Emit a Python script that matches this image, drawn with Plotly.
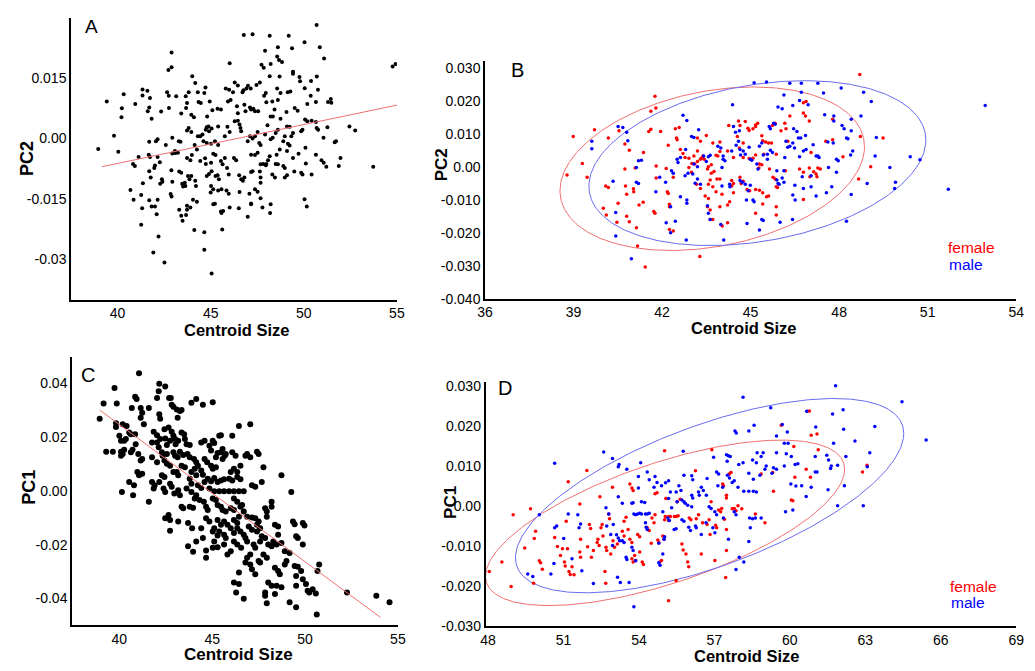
import numpy as np
import plotly.graph_objects as go

# ---------------- DATA ----------------
A_points = [
(50.69,0.0282),(46.78,0.0257),(47.25,0.0259),(48.17,0.0255),(49.19,0.0255),(50.04,0.0239),(42.9,0.0214),(50.86,0.0227),(49.37,0.0224),(48.61,0.0227),(47.92,0.0218),(48.57,0.0204),(48.67,0.0195),(48.83,0.0190),(51.09,0.0199),(46.02,0.0187),(48.22,0.0185),(47.73,0.0183),(47.85,0.0176),(42.9,0.0177),(42.73,0.0170),(54.77,0.0179),(54.93,0.0185),(49.42,0.0166),(49.42,0.0161),(48.17,0.0155),(48.7,0.0154),(49.77,0.0153),(49.8,0.0142),(50.7,0.0154),(50.39,0.0143),(44.01,0.0155),(44.17,0.0138),(46.29,0.0139),(46.46,0.0132),(47.64,0.0139),(47.46,0.0133),(47.0,0.0131),(47.15,0.0124),(45.81,0.0124),(44.72,0.0127),(44.66,0.0113),(41.34,0.0122),(41.6,0.0119),(41.34,0.0107),(40.33,0.0110),(39.42,0.0092),(42.66,0.0115),(42.75,0.0106),(43.15,0.0105),(43.66,0.0105),(43.82,0.0115),(44.31,0.0115),(45.99,0.0121),(46.2,0.0115),(46.76,0.0120),(46.92,0.0124),(46.71,0.0115),(47.96,0.0113),(47.87,0.0106),(48.57,0.0124),(48.75,0.0113),(49.14,0.0115),(49.28,0.0117),(50.05,0.0125),(50.76,0.0121),(50.37,0.0106),(51.45,0.0098),(51.48,0.0089),(51.3,0.0091),(50.65,0.0091),(50.19,0.0086),(41.74,0.0101),(40.23,0.0075),(40.21,0.0053),(40.95,0.0086),(41.7,0.0077),(41.62,0.0068),(41.83,0.0049),(42.34,0.0067),(42.76,0.0076),(43.73,0.0088),(43.68,0.0076),(44.35,0.0091),(44.47,0.0088),(44.95,0.0092),(45.09,0.0070),(45.37,0.0074),(45.55,0.0072),(44.81,0.0055),(43.96,0.0059),(44.1,0.0053),(43.42,0.0062),(45.93,0.0092),(46.07,0.0096),(46.41,0.0080),(46.46,0.0063),(46.81,0.0084),(46.87,0.0068),(47.11,0.0077),(47.17,0.0072),(47.29,0.0074),(47.38,0.0068),(47.55,0.0068),(47.99,0.0090),(48.31,0.0092),(48.43,0.0072),(48.61,0.0096),(48.22,0.0055),(48.34,0.0055),(48.75,0.0049),(49.07,0.0066),(49.51,0.0076),(49.67,0.0069),(50.07,0.0047),(50.19,0.0043),(50.42,0.0044),(50.65,0.0041),(50.69,0.0026),(50.77,0.0022),(51.27,0.0028),(52.45,0.0030),(52.76,0.0020),(51.06,0.0002),(51.73,-0.0007),(51.66,-0.0009),(53.73,-0.0070),(51.97,-0.0048),(51.88,-0.0068),(51.21,-0.0070),(51.07,-0.0060),(50.95,-0.0054),(50.65,-0.0040),(50.09,-0.0023),(50.11,-0.0062),(49.86,-0.0085),(49.93,-0.0089),(50.42,-0.0089),(49.49,-0.0082),(49.72,-0.0038),(50.04,-0.0151),(50.16,-0.0169),(49.86,0.0018),(49.93,0.0022),(49.1,0.0030),(49.24,0.0029),(48.98,0.0006),(48.49,0.0014),(48.61,0.0022),(48.05,0.0033),(48.9,-0.0007),(49.15,-0.0013),(49.24,-0.0017),(49.1,-0.0031),(48.71,-0.0027),(48.33,0.0002),(48.22,-0.0002),(47.92,0.0010),(47.52,0.0016),(47.38,0.0006),(47.11,0.0006),(47.25,0.0),(46.99,-0.0007),(47.61,-0.0011),(47.68,-0.0016),(46.6,0.0026),(46.64,0.0018),(46.29,0.0043),(46.46,0.0044),(46.55,0.0035),(45.9,0.0029),(46.02,0.0016),(45.4,0.0030),(45.76,0.0006),(45.05,0.0025),(44.88,0.0030),(44.74,0.0022),(44.79,0.0028),(44.91,0.0018),(44.44,0.0006),(44.31,0.0006),(44.56,0.0010),(43.82,0.0026),(43.73,0.0020),(43.96,0.0016),(44.61,-0.0007),(44.79,-0.0011),(45.02,-0.0013),(45.23,-0.0007),(45.4,-0.0016),(44.14,-0.0016),(44.26,-0.0027),(43.29,-0.0007),(43.38,-0.0008),(42.94,0.0002),(42.59,-0.0016),(42.94,-0.0037),(43.08,-0.0031),(42.15,-0.0002),(42.06,-0.0007),(41.7,-0.0008),(41.67,-0.0040),(41.74,-0.0046),(41.13,-0.0046),(40.83,-0.0063),(40.93,-0.0068),(40.04,-0.0033),(39.81,0.0007),(38.96,-0.0026),(42.15,-0.0046),(42.27,-0.0059),(42.01,-0.0067),(41.97,-0.0073),(41.7,-0.0081),(41.78,-0.0097),(42.29,-0.0112),(42.41,-0.0107),(42.38,-0.0101),(41.36,-0.0111),(40.69,-0.0128),(40.86,-0.0152),(41.27,-0.0140),(41.32,-0.0173),(41.7,-0.0153),(41.83,-0.0169),(42.01,-0.0169),(42.15,-0.0152),(42.1,-0.0188),(41.27,-0.0214),(42.2,-0.0243),(41.92,-0.0283),(42.52,-0.0308),(42.89,-0.0079),(42.94,-0.0107),(42.85,-0.0138),(42.9,-0.0144),(43.1,-0.0036),(43.24,-0.0035),(43.31,-0.0082),(43.42,-0.0085),(43.47,-0.0112),(43.52,-0.0119),(43.61,-0.0110),(43.64,-0.0118),(43.31,-0.0177),(43.42,-0.0192),(43.49,-0.0204),(43.73,-0.0177),(43.68,-0.0190),(43.73,-0.0167),(43.91,-0.0171),(43.78,-0.0093),(43.96,-0.0093),(43.86,-0.0101),(44.17,-0.0105),(44.21,-0.0118),(43.73,-0.0048),(43.91,-0.0054),(43.99,-0.0041),(44.05,-0.0152),(44.26,-0.0157),(44.12,-0.0227),(44.66,-0.0233),(44.66,-0.0276),(45.05,-0.0335),(44.44,-0.0056),(44.7,-0.0049),(44.74,-0.0063),(45.02,-0.0060),(45.14,-0.0038),(45.26,-0.0041),(44.79,-0.0093),(44.91,-0.0088),(45.05,-0.0081),(45.26,-0.0093),(45.37,-0.0091),(45.44,-0.0101),(45.02,-0.0118),(45.14,-0.0126),(45.0,-0.0134),(45.14,-0.0163),(45.23,-0.0162),(45.55,-0.0181),(45.67,-0.0180),(45.58,-0.0185),(45.62,-0.0226),(45.4,-0.0129),(45.58,-0.0126),(45.55,-0.0056),(45.64,-0.0064),(45.76,-0.0048),(45.88,-0.0073),(45.97,-0.0089),(45.97,-0.0137),(45.85,-0.0129),(46.02,-0.0171),(46.25,-0.0048),(46.37,-0.0054),(46.53,-0.0091),(46.64,-0.0101),(46.73,-0.0105),(46.81,-0.0097),(46.55,-0.0133),(46.51,-0.0173),(46.99,-0.0194),(47.08,-0.0137),(47.17,-0.0161),(47.17,-0.0163),(47.17,-0.0083),(47.25,-0.0081),(47.17,-0.0040),(47.38,-0.0041),(47.52,-0.0035),(47.68,-0.0064),(47.82,-0.0063),(47.96,-0.0066),(47.64,-0.0082),(47.68,-0.0097),(47.68,-0.0110),(47.38,-0.0126),(47.52,-0.0132),(47.68,-0.0148),(47.78,-0.0171),(48.22,-0.0163),(48.19,-0.0185),(48.31,-0.0089),(48.45,-0.0097),(48.08,-0.0054),(47.99,-0.0063),(48.17,-0.0044),(48.54,-0.0040),(48.49,-0.0063),(48.61,-0.0064),(48.9,-0.0068),(48.98,-0.0073),(49.1,-0.0091),(48.98,-0.0097),(49.33,0.0006),(49.42,0.0014),(49.42,-0.0048)
]
A_line_x = [39.15, 55.0]
A_line_y = [-0.0070, 0.0083]

B_female = [
(48.7,0.0280),(41.76,0.0214),(41.79,0.0178),(41.62,0.0168),(38.99,0.0092),(39.71,0.0112),(40.18,0.0087),(40.54,0.0109),(40.74,0.0069),(40.89,0.0050),(39.3,0.0010),(38.78,-0.0025),(39.46,-0.0032),(40.09,-0.0058),(40.18,-0.0063),(40.76,-0.0058),(40.8,-0.0083),(41.03,-0.0067),(41.04,-0.0076),(40.51,-0.0111),(40.01,-0.0126),(40.11,-0.0146),(40.47,-0.0168),(40.8,-0.0150),(40.89,-0.0167),(41.13,-0.0185),(41.22,-0.0116),(41.36,-0.0108),(41.17,-0.0240),(41.72,-0.0136),(41.76,-0.0141),(40.74,-0.0007),(41.09,-0.0004),(41.37,0.0043),(41.8,0.0002),(41.8,-0.0034),(41.55,0.0107),(41.62,0.0114),(41.95,0.0107),(42.21,0.0065),(42.45,0.0115),(42.58,0.0119),(42.49,0.0087),(42.51,0.0082),(42.14,-0.0005),(42.38,-0.0032),(42.18,-0.0076),(42.21,-0.0081),(42.25,-0.0114),(42.25,-0.0121),(42.25,-0.0190),(42.38,-0.0195),(42.62,0.0052),(42.71,0.0040),(42.78,0.0028),(42.91,-0.0002),(43.0,-0.0017),(43.01,0.0010),(43.11,0.0008),(43.2,0.0016),(43.3,0.0023),(43.39,0.0031),(43.43,0.0023),(43.39,0.0033),(43.33,0.0026),(43.57,0.0),(43.54,-0.0007),(43.67,0.0006),(43.3,0.0077),(43.2,0.0087),(43.5,0.0095),(43.72,0.0072),(43.96,0.0075),(43.89,0.0033),(43.96,0.0046),(43.76,-0.0014),(43.67,-0.0020),(43.63,-0.0040),(43.86,-0.0037),(43.96,-0.0037),(43.57,-0.0053),(43.72,-0.0061),(43.3,-0.0066),(43.17,-0.0053),(43.46,-0.0089),(43.57,-0.0096),(43.83,-0.0076),(44.03,-0.0083),(43.63,-0.0131),(43.54,-0.0121),(43.96,-0.0121),(44.22,-0.0116),(44.29,-0.0106),(43.63,-0.0160),(43.72,-0.0160),(44.22,-0.0170),(44.04,-0.0180),(43.28,-0.0272),(41.43,-0.0304),(44.42,-0.0051),(44.36,-0.0042),(44.26,0.0125),(44.59,0.0139),(44.64,0.0125),(44.82,0.0137),(44.91,0.0117),(45.08,0.0115),(45.17,0.0127),(45.17,0.0122),(45.24,0.0132),(44.55,0.0092),(44.62,0.0057),(44.22,0.0048),(44.42,0.0028),(44.75,0.0028),(44.95,0.0025),(45.17,0.0036),(45.08,0.0026),(45.38,0.0094),(45.41,0.0079),(45.51,0.0075),(45.61,0.0072),(45.71,0.0072),(45.45,0.0038),(45.3,0.0008),(45.38,0.0006),(45.74,0.0125),(45.83,0.0132),(46.03,0.0109),(46.16,0.0132),(46.33,0.0154),(46.79,0.0163),(46.86,0.0154),(46.99,0.0139),(46.79,0.0194),(46.88,0.0198),(46.2,0.0115),(46.26,0.0077),(45.87,0.0038),(44.64,-0.0032),(44.75,-0.0044),(44.68,-0.0051),(44.36,-0.0058),(44.42,-0.0079),(44.88,-0.0069),(44.97,-0.0073),(45.17,-0.0069),(45.3,-0.0071),(45.41,-0.0079),(45.61,-0.0089),(45.54,-0.0091),(45.41,-0.0113),(45.17,-0.0141),(45.28,-0.0004),(45.64,-0.0007),(45.87,-0.0061),(45.91,-0.0063),(45.87,-0.0121),(45.87,-0.0146),(45.76,-0.0032),(45.83,-0.0037),(46.66,-0.0007),(46.79,-0.0017),(46.99,-0.0004),(47.14,-0.0015),(47.22,-0.0022),(47.28,-0.0004),(47.36,-0.0007),(47.25,-0.0030),(47.01,-0.0030),(46.79,-0.0099),(47.55,0.0077),(47.78,0.0082),(47.78,0.0144),(48.13,0.0030),(48.66,-0.0037),(48.72,0.0092),(49.07,0.0),(49.49,0.0087),(47.05,0.0043),(46.18,-0.0012),(44.75,0.0072),(44.95,0.0110),(43.83,0.0035),(43.08,0.0033),(43.2,0.0048),(42.91,0.0026)
]
B_male = [
(45.12,0.0255),(45.54,0.0257),(46.33,0.0253),(46.72,0.0253),(47.28,0.0253),(46.13,0.0218),(46.72,0.0226),(48.07,0.0239),(48.83,0.0226),(49.09,0.0198),(47.47,0.0224),(44.39,0.0188),(45.93,0.0181),(46.07,0.0176),(46.43,0.0186),(46.66,0.0201),(46.95,0.0188),(47.51,0.0158),(47.82,0.0154),(47.82,0.0139),(48.41,0.0144),(48.74,0.0154),(52.95,0.0186),(42.71,0.0156),(42.84,0.0140),(43.24,0.0112),(43.0,0.0092),(43.08,0.0089),(42.8,0.0052),(42.51,0.0023),(42.62,0.0028),(42.54,0.0013),(42.32,-0.0012),(42.38,-0.0020),(41.92,-0.0032),(42.12,-0.0047),(41.79,-0.0076),(42.14,-0.0170),(42.29,-0.0200),(42.29,-0.0121),(42.45,-0.0165),(42.82,-0.0222),(42.62,-0.0091),(42.84,-0.0101),(42.84,-0.0111),(43.04,-0.0022),(43.12,-0.0050),(43.2,-0.0037),(43.3,-0.0053),(43.41,0.0033),(43.5,0.0016),(43.57,0.0030),(43.63,0.0035),(43.89,0.0062),(43.99,0.0057),(44.07,0.0033),(44.07,0.0023),(44.13,0.0018),(44.03,-0.0002),(44.03,-0.0058),(43.54,-0.0118),(43.57,-0.0141),(43.63,-0.0160),(43.99,-0.0175),(44.09,-0.0222),(44.3,-0.0061),(44.29,-0.0053),(44.36,0.0048),(44.51,0.0065),(44.59,0.0077),(44.64,0.0052),(44.49,0.0105),(44.62,0.0109),(44.42,0.0122),(44.66,0.0036),(44.75,0.0048),(44.82,0.0038),(44.95,0.0059),(44.99,0.0023),(45.04,0.0020),(44.64,-0.0042),(44.72,-0.0047),(44.82,-0.0053),(44.86,-0.0101),(44.92,-0.0073),(44.99,-0.0056),(45.08,-0.0101),(45.12,-0.0106),(44.88,-0.0172),(45.3,-0.0192),(45.38,-0.0160),(45.43,-0.0163),(45.21,0.0008),(45.25,-0.0007),(45.3,0.0062),(45.38,0.0072),(45.43,0.0036),(45.57,0.0038),(45.57,0.0023),(45.67,0.0050),(45.74,0.0043),(45.63,0.0122),(45.67,0.0115),(45.78,0.0132),(45.83,0.0129),(45.89,-0.0012),(45.89,-0.0040),(45.93,-0.0051),(45.97,-0.0053),(46.13,-0.0012),(46.16,0.0028),(46.07,-0.0034),(46.13,-0.0047),(46.0,-0.0168),(46.42,-0.0160),(46.43,-0.0086),(46.51,-0.0101),(46.5,-0.0056),(46.2,0.0077),(46.26,0.0059),(46.33,0.0062),(46.43,0.0072),(46.49,0.0057),(46.46,0.0115),(46.57,0.0107),(46.62,0.0087),(46.7,0.0087),(46.86,0.0095),(46.79,0.0048),(46.88,0.0052),(46.66,0.0030),(46.75,-0.0030),(47.05,-0.0027),(46.79,-0.0066),(47.05,-0.0061),(47.22,-0.0089),(47.12,0.0067),(47.22,0.0033),(47.28,0.0033),(47.32,0.0028),(47.64,-0.0002),(47.57,-0.0079),(47.75,-0.0061),(47.62,0.0075),(47.8,0.0072),(47.91,0.0023),(47.97,0.0018),(47.91,-0.0017),(48.1,0.0125),(48.17,0.0115),(48.25,0.0087),(48.3,0.0085),(48.39,0.0036),(48.46,0.0048),(48.41,0.0109),(48.41,-0.0084),(48.25,-0.0165),(48.95,-0.0051),(49.22,0.0033),(49.26,0.0089),(49.72,-0.0002),(49.91,-0.0047),(49.88,-0.0066),(50.41,0.0030),(50.74,0.0021),(51.7,-0.0068),(40.96,-0.0279),(40.43,-0.0210),(40.43,-0.0139),(40.34,-0.0044),(39.62,0.0077),(39.62,0.0055),(40.51,0.0122),(40.67,0.0119),(40.8,0.0105),(40.84,0.0079),(41.13,-0.0002),(41.2,0.0018),(41.3,0.0020),(41.13,-0.0047),(41.2,-0.0051),(43.08,0.0008),(43.2,0.0),(42.88,-0.0020),(42.78,-0.0027)
]
# confidence ellipses: centre, half-widths and correlation term (cos of phase)
B_female_ellipse = dict(cx=43.70, rx=5.16, cy=-0.0006, ry=0.0248, c=0.27)
B_male_ellipse = dict(cx=45.23, rx=5.71, cy=0.0011, ry=0.0250, c=0.28)

C_points = [
(41.06,0.0438),(39.74,0.0383),(39.15,0.0325),(39.86,0.0325),(38.94,0.0269),(40.85,0.0350),(40.93,0.0342),(40.67,0.0309),(41.15,0.0309),(41.59,0.0309),(41.23,0.0291),(42.15,0.0399),(42.47,0.0389),(42.12,0.0371),(42.03,0.0346),(42.68,0.0346),(42.77,0.0346),(42.82,0.0321),(42.91,0.0313),(43.09,0.0303),(43.26,0.0297),(43.35,0.0301),(43.88,0.0328),(44.14,0.0342),(44.5,0.0321),(45.03,0.0330),(43.14,0.0272),(42.15,0.0285),(42.2,0.0269),(41.15,0.0272),(41.32,0.0248),(39.82,0.0252),(39.82,0.0238),(40.18,0.0248),(40.39,0.0242),(40.0,0.0205),(40.09,0.0187),(40.26,0.0187),(40.35,0.0193),(40.53,0.0217),(40.62,0.0211),(40.85,0.0211),(39.29,0.0146),(39.65,0.0146),(40.09,0.0146),(40.18,0.0137),(40.26,0.0153),(40.09,0.0131),(40.62,0.0144),(40.71,0.0153),(40.88,0.0174),(41.02,0.0137),(41.15,0.0113),(41.23,0.0119),(40.97,0.0070),(41.06,0.0058),(41.23,0.0064),(40.53,0.0033),(40.79,0.0021),(40.14,-0.0004),(40.74,-0.0016),(41.59,-0.0040),(41.76,0.0180),(42.03,0.0180),(42.12,0.0162),(41.76,0.0125),(42.03,0.0107),(41.76,0.0033),(41.9,0.0021),(41.85,0.0009),(42.15,0.0033),(42.29,0.0058),(42.43,0.0052),(41.85,0.0220),(42.03,0.0207),(42.2,0.0193),(42.43,0.0229),(42.65,0.0236),(42.82,0.0220),(42.47,0.0195),(42.56,0.0171),(42.73,0.0187),(42.91,0.0205),(43.0,0.0193),(43.03,0.0174),(43.17,0.0187),(42.29,0.0144),(42.33,0.0131),(42.56,0.0137),(42.43,0.0113),(42.56,0.0101),(42.73,0.0094),(42.91,0.0144),(43.0,0.0131),(43.14,0.0125),(43.26,0.0146),(43.35,0.0217),(43.49,0.0211),(43.53,0.0193),(43.62,0.0174),(43.79,0.0171),(43.44,0.0134),(43.67,0.0137),(43.79,0.0125),(42.91,0.0070),(43.09,0.0070),(43.17,0.0058),(42.73,0.0027),(42.82,0.0015),(42.96,-0.0010),(43.17,0.0002),(43.26,-0.0016),(42.47,-0.0102),(42.73,-0.0108),(42.65,-0.0090),(42.73,-0.0148),(43.17,-0.0114),(43.35,-0.0059),(43.44,-0.0065),(43.7,-0.0120),(43.7,-0.0206),(43.79,-0.0059),(43.97,-0.0063),(43.92,-0.0139),(43.97,-0.0227),(44.14,-0.0188),(44.41,-0.0139),(44.67,-0.0222),(44.67,-0.0249),(44.06,-0.0028),(44.14,-0.0016),(44.32,-0.0034),(44.55,-0.0040),(44.67,-0.0059),(44.76,-0.0071),(43.88,0.0070),(44.06,0.0082),(44.14,0.0058),(44.23,0.0094),(44.41,0.0076),(44.5,0.0060),(44.59,0.0033),(44.59,0.0119),(44.73,0.0107),(44.41,0.0180),(44.59,0.0187),(44.85,0.0168),(44.94,0.0150),(45.03,0.0187),(45.11,0.0178),(45.38,0.0205),(45.47,0.0207),(45.2,0.0125),(45.29,0.0141),(45.47,0.0144),(45.56,0.0119),(45.68,0.0131),(44.94,0.0094),(45.03,0.0082),(45.2,0.0088),(44.76,0.0045),(44.94,0.0036),(45.11,0.0048),(45.29,0.0033),(45.47,0.0039),(45.64,0.0043),(44.85,0.0009),(45.11,-0.0001),(45.38,-0.0001),(45.64,-0.0001),(45.91,-0.0001),(46.17,-0.0001),(46.44,-0.0001),(46.7,-0.0001),(45.03,-0.0028),(45.2,-0.0034),(45.29,-0.0053),(45.47,-0.0059),(45.56,-0.0071),(45.73,-0.0077),(45.29,-0.0108),(45.47,-0.0126),(45.38,-0.0151),(45.11,-0.0139),(45.03,-0.0151),(45.29,-0.0166),(45.11,-0.0188),(45.03,-0.0212),(45.29,-0.0210),(45.64,-0.0163),(45.73,-0.0175),(45.64,-0.0200),(45.82,-0.0237),(46.0,-0.0225),(46.08,0.0205),(46.08,0.0144),(46.26,0.0131),(46.44,0.0242),(47.05,0.0248),(46.0,0.0070),(46.17,0.0082),(46.35,0.0070),(45.91,0.0045),(46.08,0.0039),(46.35,0.0052),(46.52,0.0043),(46.88,0.0137),(46.79,0.0131),(47.41,0.0146),(47.5,0.0137),(47.14,0.0021),(47.32,0.0015),(47.76,0.0088),(47.67,0.0033),(48.73,0.0058),(49.26,-0.0004),(46.17,-0.0028),(46.35,-0.0040),(46.52,-0.0059),(46.61,-0.0053),(46.0,-0.0065),(46.17,-0.0071),(46.17,-0.0108),(46.35,-0.0120),(46.44,-0.0096),(46.7,-0.0077),(46.88,-0.0096),(47.14,-0.0099),(46.35,-0.0139),(46.52,-0.0151),(46.7,-0.0163),(46.17,-0.0188),(46.35,-0.0200),(46.56,-0.0212),(46.79,-0.0175),(46.88,-0.0188),(46.88,-0.0249),(46.79,-0.0267),(47.05,-0.0274),(47.05,-0.0237),(47.14,-0.0292),(47.32,-0.0310),(46.44,-0.0304),(46.17,-0.0341),(46.44,-0.0347),(46.29,-0.0378),(46.7,-0.0402),(47.41,-0.0126),(47.58,-0.0139),(47.41,-0.0151),(47.32,-0.0102),(47.5,-0.0114),(47.67,-0.0169),(47.85,-0.0175),(47.58,-0.0188),(47.76,-0.0237),(47.94,-0.0249),(48.02,-0.0200),(48.2,-0.0206),(47.85,-0.0065),(47.94,-0.0077),(47.94,-0.0096),(48.2,-0.0040),(48.2,-0.0059),(48.38,-0.0126),(48.55,-0.0133),(48.55,-0.0163),(48.73,-0.0194),(48.91,-0.0225),(49.17,-0.0231),(48.38,-0.0286),(48.55,-0.0298),(48.64,-0.0310),(48.02,-0.0341),(48.2,-0.0353),(48.47,-0.0353),(48.73,-0.0359),(47.85,-0.0378),(47.85,-0.0390),(47.94,-0.0418),(48.38,-0.0384),(48.91,-0.0274),(49.0,-0.0261),(49.44,-0.0280),(49.61,-0.0282),(49.52,-0.0317),(49.52,-0.0353),(49.17,-0.0415),(49.52,-0.0433),(49.79,-0.0298),(49.88,-0.0329),(50.05,-0.0347),(50.14,-0.0372),(50.23,-0.0378),(50.41,-0.0366),(50.58,-0.0382),(50.67,-0.0298),(50.76,-0.0274),(50.63,-0.0460),(49.35,-0.0114),(49.44,-0.0124),(49.88,-0.0120),(49.97,-0.0129),(49.52,-0.0169),(49.61,-0.0175),(49.88,-0.0200),(52.26,-0.0378),(53.84,-0.0390),(54.55,-0.0415),(48.29,-0.0188),(48.47,-0.0200),(47.05,0.0125),(46.52,0.0094),(45.73,0.0137),(45.56,0.0156),(44.02,0.0119),(44.14,0.0107),(43.35,0.0094),(43.53,0.0088),(43.79,0.0045),(43.88,0.0027),(43.62,0.0009),(43.88,-0.0004),(44.23,0.0021),(44.41,0.0011),(42.38,0.0009),(42.47,-0.0004),(44.67,-0.0102),(44.85,-0.0114),(44.5,-0.0175),(45.64,-0.0114),(45.82,-0.0126),(46.0,-0.0139),(46.17,-0.0157),(46.97,-0.0133),(47.14,-0.0145),(47.23,-0.0200),(47.32,-0.0212),(47.5,-0.0261),(47.58,-0.0267)
]
C_line_x = [38.94, 54.06]
C_line_y = [0.0301, -0.0471]

D_female = [
(48.05,-0.0164),(48.55,-0.0140),(48.92,-0.0201),(49.0,-0.0022),(49.69,-0.0007),(49.46,-0.0105),(49.81,-0.0193),(49.84,-0.0081),(49.89,-0.0063),(50.04,-0.0137),(50.09,-0.0142),(50.16,-0.0158),(50.65,-0.0079),(50.76,-0.0101),(50.88,-0.0124),(50.96,-0.0107),(51.04,-0.0140),(51.07,-0.0150),(51.16,-0.0107),(51.19,0.0061),(51.11,-0.0038),(51.22,-0.0164),(51.27,-0.0171),(51.34,-0.0152),(51.42,-0.0172),(51.68,-0.0083),(51.65,-0.0115),(51.68,-0.0128),(51.65,0.0005),(51.93,0.0089),(52.03,-0.0046),(52.08,-0.0056),(51.96,-0.0102),(52.11,-0.0128),(52.19,-0.0111),(52.37,-0.0083),(52.34,-0.0091),(52.42,-0.0099),(52.45,0.0023),(52.49,-0.0054),(52.54,-0.0046),(52.57,-0.0075),(52.65,-0.0164),(52.68,-0.0193),(52.69,-0.0103),(52.72,-0.0111),(52.8,-0.0020),(52.83,-0.0032),(52.88,-0.0120),(52.97,-0.0087),(52.95,0.0047),(53.03,-0.0103),(53.14,-0.0095),(53.34,-0.0063),(53.41,-0.0075),(53.41,-0.0038),(53.49,-0.0028),(53.57,-0.0059),(53.64,0.0055),(53.72,0.0045),(53.77,0.0039),(53.64,-0.0083),(53.72,-0.0091),(53.72,-0.0132),(53.77,-0.0140),(53.83,-0.0124),(53.87,-0.0136),(53.95,-0.0071),(54.03,-0.0077),(54.03,-0.0115),(54.13,-0.0140),(54.18,-0.0146),(54.33,-0.0054),(54.41,-0.0061),(54.49,-0.0093),(54.52,-0.0030),(54.6,-0.0042),(54.64,-0.0022),(54.64,0.0031),(54.72,0.0033),(54.75,-0.0085),(54.79,-0.0091),(54.83,-0.0140),(54.9,-0.0136),(54.95,-0.0075),(55.0,-0.0083),(55.02,0.0138),(55.07,0.0019),(55.05,-0.0026),(55.18,-0.0026),(55.25,-0.0026),(55.18,-0.0237),(55.02,-0.0034),(55.18,-0.0036),(55.41,-0.0026),(55.48,-0.0026),(55.56,-0.0024),(55.48,-0.0186),(55.52,0.0011),(55.64,0.0017),(55.71,-0.0095),(55.76,-0.0110),(55.94,-0.0140),(55.98,-0.0152),(55.87,-0.0120),(56.0,-0.0030),(56.07,-0.0034),(56.25,0.0088),(56.28,-0.0032),(56.37,-0.0022),(56.48,-0.0120),(56.53,-0.0042),(56.71,-0.0046),(56.79,-0.0034),(56.83,-0.0071),(56.87,0.0011),(56.9,0.0141),(57.02,-0.0136),(57.05,-0.0048),(57.09,-0.0054),(57.17,-0.0010),(57.25,-0.0014),(57.29,-0.0006),(57.33,0.0055),(57.36,0.0051),(57.48,0.0027),(57.48,0.0020),(57.4,-0.0033),(57.45,-0.0179),(57.48,-0.0111),(57.48,-0.0059),(57.59,0.0080),(57.66,0.0084),(57.71,-0.0007),(57.79,-0.0006),(57.86,-0.0012),(57.94,0.0001),(58.09,-0.0007),(58.63,-0.0020),(58.86,0.0080),(59.01,-0.0042),(59.32,0.0084),(59.35,0.0037),(59.66,0.0202),(60.06,0.0015),(60.12,0.0013),(60.16,0.0149),(60.2,0.0072),(60.65,0.0092),(60.78,0.0238),(60.7,0.0237),(60.85,0.0177),(61.08,0.0180),(61.13,0.0141),(60.82,0.0072),(62.89,0.0085),(63.07,0.0102)
]
D_male = [
(58.14,0.0272),(61.82,0.0301),(64.46,0.0261),(59.24,0.0246),(60.67,0.0237),(61.7,0.0230),(62.12,0.0241),(65.42,0.0165),(63.38,0.0199),(59.7,0.0204),(58.58,0.0202),(57.82,0.0188),(57.87,0.0183),(58.37,0.0188),(59.9,0.0185),(61.03,0.0198),(62.14,0.0192),(62.59,0.0163),(59.47,0.0175),(59.78,0.0157),(59.93,0.0157),(61.74,0.0157),(63.18,0.0133),(62.23,0.0124),(61.01,0.0124),(61.47,0.0127),(61.54,0.0115),(61.9,0.0102),(61.01,0.0085),(61.08,0.0085),(61.65,0.0100),(61.62,0.0094),(63.08,0.0098),(61.52,0.0041),(62.17,0.0051),(61.9,0.0001),(62.92,0.0001),(60.85,0.0047),(60.65,0.0024),(60.24,0.0050),(60.47,0.0051),(60.04,0.0055),(60.06,0.0124),(60.21,0.0104),(60.32,0.0106),(59.86,0.0131),(59.78,0.0100),(60.12,-0.0010),(59.83,-0.0014),(59.47,0.0133),(59.47,0.0092),(59.29,0.0082),(59.35,0.0096),(59.06,0.0100),(59.01,0.0092),(58.7,0.0133),(58.94,0.0133),(58.86,0.0124),(58.52,0.0115),(58.67,0.0108),(58.14,0.0108),(57.97,0.0104),(57.48,0.0128),(57.56,0.0126),(57.63,0.0124),(57.51,0.0112),(56.97,0.0122),(57.09,0.0085),(57.17,0.0080),(57.52,0.0077),(57.6,0.0070),(58.37,0.0082),(58.55,0.0067),(58.81,0.0077),(57.94,0.0047),(58.17,0.0037),(58.37,0.0037),(58.55,0.0037),(58.67,0.0035),(57.71,0.0059),(57.79,0.0063),(57.14,0.0051),(57.33,0.0047),(56.71,0.0069),(56.48,0.0047),(56.56,0.0039),(56.68,0.0027),(56.37,0.0035),(56.4,0.0027),(56.79,-0.0002),(56.87,-0.0006),(57.02,-0.0014),(57.09,-0.0022),(57.36,-0.0030),(57.79,-0.0014),(57.86,-0.0022),(57.56,-0.0083),(58.4,-0.0030),(58.43,-0.0054),(58.52,-0.0032),(58.63,-0.0030),(58.86,-0.0030),(58.37,-0.0089),(57.99,-0.0128),(58.17,-0.0140),(57.86,-0.0159),(56.1,0.0076),(56.14,0.0066),(55.79,0.0077),(55.59,0.0051),(55.67,0.0039),(55.48,0.0035),(55.52,0.0011),(55.71,0.0015),(55.79,0.0011),(55.84,0.0007),(55.94,0.0002),(56.1,-0.0002),(56.1,0.0027),(56.14,0.0020),(55.76,0.0137),(55.71,-0.0034),(55.79,-0.0038),(55.98,-0.0053),(56.05,-0.0061),(56.25,-0.0050),(56.28,-0.0054),(56.48,-0.0071),(56.67,-0.0042),(56.94,-0.0054),(57.02,-0.0067),(55.3,-0.0004),(55.25,0.0035),(55.18,0.0019),(55.4,-0.0059),(55.48,-0.0057),(54.9,0.0051),(55.06,0.0058),(55.18,0.0063),(54.64,0.0074),(54.72,0.0059),(54.95,-0.0014),(55.15,-0.0030),(55.21,-0.0036),(55.02,-0.0077),(55.0,-0.0083),(54.79,-0.0093),(54.95,-0.0120),(54.79,-0.0142),(54.84,-0.0148),(54.6,0.0047),(54.33,0.0085),(54.41,0.0066),(53.98,0.0074),(53.98,0.0045),(54.1,0.0011),(54.23,0.0009),(54.26,-0.0020),(54.33,-0.0020),(54.41,-0.0018),(54.26,-0.0042),(54.29,-0.0053),(54.33,-0.0059),(53.8,-0.0020),(53.87,-0.0022),(53.95,-0.0020),(54.03,-0.0018),(54.1,-0.0020),(53.77,0.0008),(53.72,0.0007),(53.34,0.0007),(53.18,0.0023),(53.21,0.0104),(53.18,0.0098),(52.95,0.0119),(52.6,0.0135),(54.07,0.0108),(53.52,0.0092),(52.69,-0.0004),(52.8,-0.0020),(52.72,-0.0050),(52.88,-0.0071),(52.98,-0.0046),(53.11,-0.0072),(53.18,-0.0080),(53.23,-0.0087),(52.95,-0.0099),(53.34,-0.0087),(53.41,-0.0091),(53.72,-0.0103),(53.77,-0.0111),(53.49,-0.0128),(53.52,-0.0134),(53.15,-0.0178),(53.26,-0.0191),(53.61,-0.0191),(53.8,-0.0252),(52.19,-0.0194),(53.87,-0.0137),(51.62,-0.0054),(51.57,-0.0022),(51.19,-0.0020),(51.01,-0.0081),(50.65,-0.0054),(50.73,-0.0050),(50.65,0.0107),(50.04,-0.0022),(50.62,-0.0144),(50.5,-0.0170),(49.58,-0.0170),(49.78,-0.0176),(51.34,-0.0132),(51.73,-0.0162),(51.68,-0.0045)
]
D_female_ellipse = dict(cx=55.04, rx=7.14, cy=-0.0042, ry=0.0207, c=0.646)
D_male_ellipse = dict(cx=56.81, rx=7.72, cy=0.0026, ry=0.0243, c=0.64)

A_x_ticks = [40, 45, 50, 55]
A_y_ticks = [-0.03, -0.015, 0.0, 0.015]
A_y_labels = ["-0.03", "-0.015", "0.00", "0.015"]
B_x_ticks = [36, 39, 42, 45, 48, 51, 54]
B_y_ticks = [-0.04, -0.03, -0.02, -0.01, 0.0, 0.01, 0.02, 0.03]
B_y_labels = ["-0.040", "-0.030", "-0.020", "-0.010", "0.00", "0.010", "0.020", "0.030"]
C_x_ticks = [40, 45, 50, 55]
C_y_ticks = [-0.04, -0.02, 0.0, 0.02, 0.04]
C_y_labels = ["-0.04", "-0.02", "0.00", "0.02", "0.04"]
D_x_ticks = [48, 51, 54, 57, 60, 63, 66, 69]
D_y_ticks = [-0.03, -0.02, -0.01, 0.0, 0.01, 0.02, 0.03]
D_y_labels = ["-0.030", "-0.020", "-0.010", "0.00", "0.010", "0.020", "0.030"]

# ---------------- FIGURE ----------------
W, H = 1035, 671
FONT = "Liberation Sans, Arial, sans-serif"
RED = "#ff0000"
BLUE = "#0000ff"
RED_LINE = "#f07070"
BLUE_LINE = "#6a6af0"


def unzip(pts):
    return [p[0] for p in pts], [p[1] for p in pts]


def ellipse(e, n=361):
    t = np.linspace(0, 2 * np.pi, n)
    phi = np.arccos(e["c"])
    return e["cx"] + e["rx"] * np.cos(t), e["cy"] + e["ry"] * np.cos(t - phi)


def px(x):
    return x / W


def py(y):
    return 1 - y / H


fig = go.Figure()

# Panel A
ax, ay = unzip(A_points)
fig.add_trace(go.Scatter(x=ax, y=ay, mode="markers", xaxis="x", yaxis="y",
                         marker=dict(size=4, color="black"), showlegend=False))
fig.add_trace(go.Scatter(x=A_line_x, y=A_line_y, mode="lines", xaxis="x", yaxis="y",
                         line=dict(color=RED_LINE, width=1), showlegend=False))

# Panel B
for e, col in [(B_female_ellipse, RED_LINE), (B_male_ellipse, BLUE_LINE)]:
    ex, ey = ellipse(e)
    fig.add_trace(go.Scatter(x=ex, y=ey, mode="lines", xaxis="x2", yaxis="y2",
                             line=dict(color=col, width=1), showlegend=False))
bx, by = unzip(B_female)
fig.add_trace(go.Scatter(x=bx, y=by, mode="markers", xaxis="x2", yaxis="y2",
                         marker=dict(size=3.5, color=RED), showlegend=False))
bx, by = unzip(B_male)
fig.add_trace(go.Scatter(x=bx, y=by, mode="markers", xaxis="x2", yaxis="y2",
                         marker=dict(size=3.5, color=BLUE), showlegend=False))

# Panel C
cx, cy = unzip(C_points)
fig.add_trace(go.Scatter(x=cx, y=cy, mode="markers", xaxis="x3", yaxis="y3",
                         marker=dict(size=6, color="black"), showlegend=False))
fig.add_trace(go.Scatter(x=C_line_x, y=C_line_y, mode="lines", xaxis="x3", yaxis="y3",
                         line=dict(color=RED_LINE, width=1), showlegend=False))

# Panel D
for e, col in [(D_female_ellipse, RED_LINE), (D_male_ellipse, BLUE_LINE)]:
    ex, ey = ellipse(e)
    fig.add_trace(go.Scatter(x=ex, y=ey, mode="lines", xaxis="x4", yaxis="y4",
                             line=dict(color=col, width=1), showlegend=False))
dx, dy = unzip(D_female)
fig.add_trace(go.Scatter(x=dx, y=dy, mode="markers", xaxis="x4", yaxis="y4",
                         marker=dict(size=3.5, color=RED), showlegend=False))
dx, dy = unzip(D_male)
fig.add_trace(go.Scatter(x=dx, y=dy, mode="markers", xaxis="x4", yaxis="y4",
                         marker=dict(size=3.5, color=BLUE), showlegend=False))


def axis(domain, rng, tickvals, ticktext=None, size=14, anchor=None):
    d = dict(domain=domain, range=rng, tickvals=tickvals, showline=True, linecolor="black",
             linewidth=1.5, showgrid=False, zeroline=False, ticks="", anchor=anchor,
             tickfont=dict(family=FONT, size=size, color="black"))
    if ticktext is not None:
        d["ticktext"] = ticktext
    return d


fig.update_layout(
    width=W, height=H, autosize=False,
    margin=dict(l=0, r=0, t=0, b=0),
    paper_bgcolor="white", plot_bgcolor="white",
    xaxis=axis([px(64), px(395)], [37.5, 55], A_x_ticks, size=14, anchor="y"),
    yaxis=axis([py(301), py(14)], [-0.040, 0.030], A_y_ticks, A_y_labels, size=14, anchor="x"),
    xaxis2=axis([px(484.5), px(1024)], [36, 54], B_x_ticks, size=14, anchor="y2"),
    yaxis2=axis([py(300), py(58.3)], [-0.040, 0.032], B_y_ticks, B_y_labels, size=14, anchor="x2"),
    xaxis3=axis([px(65), px(396)], [37.45, 55], C_x_ticks, size=14, anchor="y3"),
    yaxis3=axis([py(632.5), py(359)], [-0.050, 0.050], C_y_ticks, C_y_labels, size=14, anchor="x3"),
    xaxis4=axis([px(485), px(1024)], [47.9, 69.0], D_x_ticks, size=14, anchor="y4"),
    yaxis4=axis([py(633.3), py(385)], [-0.030, 0.031], D_y_ticks, D_y_labels, size=14, anchor="x4"),
)


def note(text, x, y, size, bold=False, color="black", angle=0, xanchor="center"):
    fig.add_annotation(text=("<b>%s</b>" % text) if bold else text, x=px(x), y=py(y),
                       xref="paper", yref="paper", showarrow=False, textangle=angle,
                       xanchor=xanchor, yanchor="middle",
                       font=dict(family=FONT, size=size, color=color))


# axis titles
note("Centroid Size", 232, 331.5, 16.5, bold=True)
note("PC2", 20, 157, 18, bold=True, angle=-90)
note("Centroid Size", 747, 330, 16.5, bold=True)
note("PC2", 440, 164, 17, bold=True, angle=-90)
note("Centroid Size", 234, 662, 17, bold=True)
note("PC1", 22, 492, 18, bold=True, angle=-90)
note("Centroid Size", 750, 664, 16.5, bold=True)
note("PC1", 450, 508, 17, bold=True, angle=-90)

# panel letters
note("A", 85, 23, 19)
note("B", 518, 67, 20)
note("C", 81, 378, 20)
note("D", 505, 391, 20)

# group labels
note("female", 953, 248, 15.5, color=RED, xanchor="left")
note("male", 954, 265, 15.5, color=BLUE, xanchor="left")
note("female", 955, 593, 15.5, color=RED, xanchor="left")
note("male", 956, 609, 15.5, color=BLUE, xanchor="left")

fig.write_html("out.html", config={"displayModeBar": False},
               post_script="document.body.style.margin='0px';document.body.style.padding='0px';")
